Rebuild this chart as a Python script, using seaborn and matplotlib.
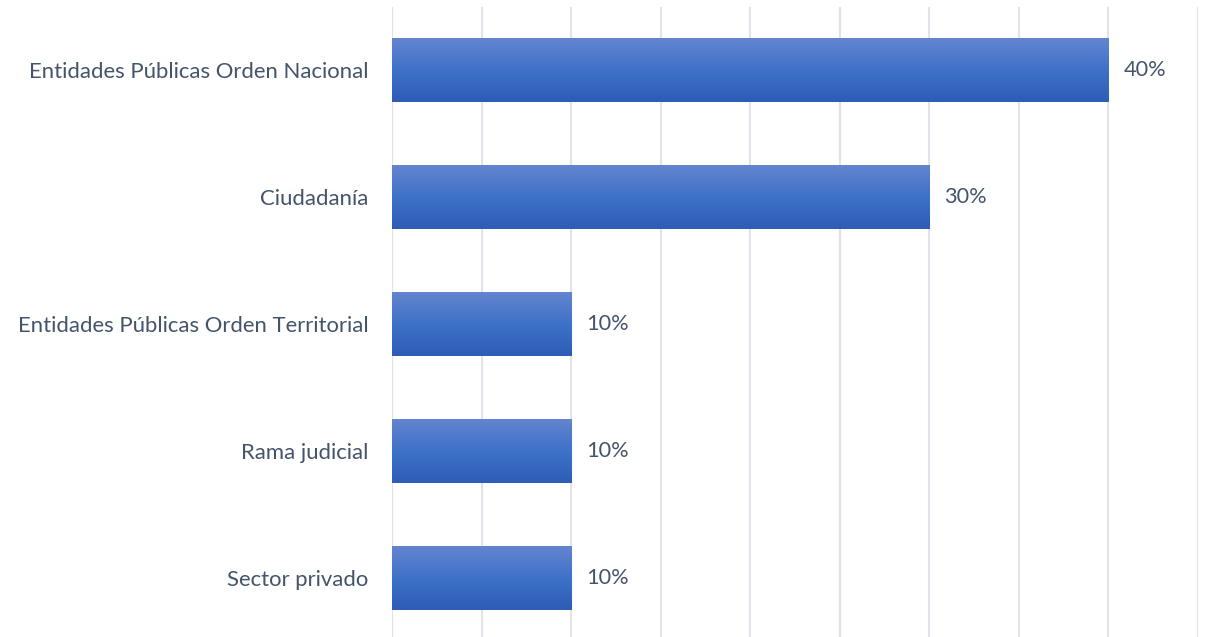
import numpy as np
import pandas as pd
import matplotlib
matplotlib.use("Agg")
import matplotlib.pyplot as plt
import seaborn as sns
from matplotlib.colors import LinearSegmentedColormap

categories = [
    "Entidades Públicas Orden Nacional",
    "Ciudadanía",
    "Entidades Públicas Orden Territorial",
    "Rama judicial",
    "Sector privado",
]
shares = [0.40, 0.30, 0.10, 0.10, 0.10]

df = pd.DataFrame({"categoria": categories, "valor": shares})

sns.set_theme(style="white")
plt.rcParams["font.family"] = ["Lato", "DejaVu Sans"]

W, H = 1205, 637
fig = plt.figure(figsize=(W / 100, H / 100), dpi=100)
left_px, right_px = 392, 1198
top_px, bottom_px = 6.5, 641.5
ax = fig.add_axes([left_px / W, 1 - bottom_px / H,
                   (right_px - left_px) / W, (bottom_px - top_px) / H])

sns.barplot(data=df, y="categoria", x="valor", orient="h", width=0.5,
            color="#3F72C8", ax=ax, zorder=2)

ax.set_xlim(0, 0.45)
ax.set_xticks(np.arange(0, 0.451, 0.05))
ax.set_xticklabels([])
ax.grid(axis="x", color="#E0E4EA", linewidth=1.5, zorder=0)
ax.set_axisbelow(True)
for s in ax.spines.values():
    s.set_visible(False)
ax.tick_params(axis="both", length=0)
ax.set_xlabel("")
ax.set_ylabel("")
ax.tick_params(axis="y", labelsize=15.9, labelcolor="#44546A", pad=17)

# vertical gradient fill for each bar
grad = LinearSegmentedColormap.from_list(
    "barfill", ["#6485D0", "#3E71C8", "#2D5DB6"])
gradient = np.linspace(0, 1, 256).reshape(-1, 1)
for patch in ax.patches:
    x0, y0 = patch.get_x(), patch.get_y()
    w, h = patch.get_width(), patch.get_height()
    ax.imshow(gradient, cmap=grad, aspect="auto", zorder=3,
              extent=[x0, x0 + w, y0 + h, y0], interpolation="bicubic")
    patch.set_facecolor("none")
    patch.set_edgecolor("none")
ax.set_xlim(0, 0.45)
ax.set_ylim(len(categories) - 0.5, -0.5)

for i, v in enumerate(shares):
    ax.annotate(f"{v:.0%}", xy=(v, i), xytext=(15, 0),
                textcoords="offset pixels",
                va="center", ha="left", fontsize=15.7, color="#44546A")

fig.savefig("out.png", dpi=100)
